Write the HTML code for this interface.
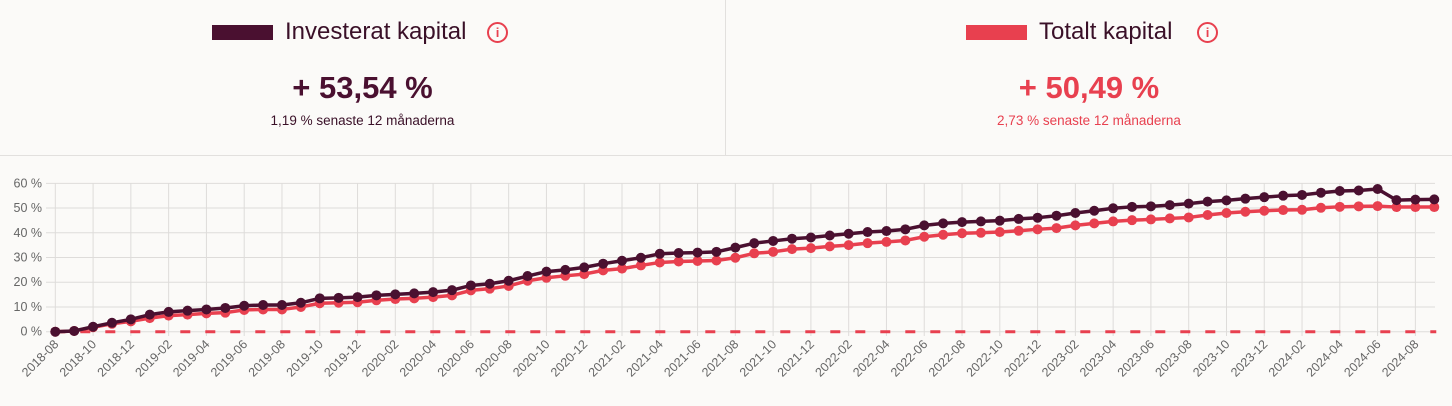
<!DOCTYPE html>
<html><head><meta charset="utf-8">
<style>
body{margin:0;width:1452px;height:406px;background:#fbfaf8;font-family:"Liberation Sans","DejaVu Sans",sans-serif;overflow:hidden;position:relative}
.panel{position:absolute;top:0;height:155px;text-align:center}
.ttl{position:absolute;top:18px;font-size:24px;color:#3a1028;white-space:nowrap}
.sw{position:absolute;top:25px;width:61px;height:15px}
.info{position:absolute;top:22px;width:17px;height:17px;border:2px solid #e8404f;border-radius:50%;color:#e8404f;font-size:13px;line-height:17px;text-align:center;font-weight:bold}
.big{position:absolute;top:70px;left:0;right:0;font-size:31px;font-weight:bold;text-align:center}
.sub{position:absolute;top:113px;left:0;right:0;font-size:13.5px;text-align:center}
</style></head><body>
<div style="position:absolute;left:0;top:0;width:1452px;height:155px;border-bottom:1px solid #e2e0de"></div>
<div style="position:absolute;left:725px;top:0;width:1px;height:155px;background:#e2e0de"></div>
<div class="panel" style="left:0;width:725px">
 <div class="sw" style="left:212px;background:#4a1030"></div>
 <div class="ttl" style="left:285px">Investerat kapital</div>
 <div class="info" style="left:487px">i</div>
 <div class="big" style="color:#4a1030">+ 53,54 %</div>
 <div class="sub" style="color:#3a1028">1,19 % senaste 12 månaderna</div>
</div>
<div class="panel" style="left:726px;width:726px">
 <div class="sw" style="left:240px;background:#e8404f"></div>
 <div class="ttl" style="left:313px">Totalt kapital</div>
 <div class="info" style="left:471px">i</div>
 <div class="big" style="color:#e8404f">+ 50,49 %</div>
 <div class="sub" style="color:#e8404f">2,73 % senaste 12 månaderna</div>
</div>
<svg id="chart" width="1452" height="406" style="position:absolute;left:0;top:0"></svg>
<script>
const startYear=2018, startMonth=8;
const invested=[0,0.3,2,3.6,5,6.9,8,8.5,9,9.6,10.5,10.8,10.8,11.7,13.5,13.7,14,14.7,15.1,15.5,16,16.8,18.7,19.4,20.6,22.5,24.3,25,26,27.5,28.7,29.9,31.5,31.8,32,32.3,34,35.8,36.7,37.6,38.1,38.9,39.6,40.3,40.7,41.4,43,43.8,44.3,44.6,44.9,45.6,46.1,46.9,48,48.9,49.9,50.5,50.7,51.2,51.8,52.6,53.1,53.8,54.4,55,55.3,56.2,56.9,57.1,57.7,53.2,53.4,53.5];
const total=[0,0.3,1.8,3.2,4.2,5.5,6.5,6.9,7.4,7.7,8.8,9,9,10,11.5,11.7,11.9,12.7,13.2,13.5,14,14.7,16.7,17.4,18.5,20.6,21.8,22.6,23.3,24.8,25.5,26.8,28,28.4,28.6,28.8,29.9,31.7,32.3,33.4,33.8,34.5,35,35.8,36.3,36.9,38.4,39.2,39.8,40,40.3,40.8,41.4,41.9,43,43.8,44.6,45.1,45.4,45.8,46.2,47.2,48,48.5,48.9,49.2,49.3,50.1,50.5,50.7,50.8,50.4,50.4,50.4];
const yTicks=[0,10,20,30,40,50,60];
const N=Math.min(invested.length,total.length);
const months=[];for(let i=0;i<N;i++){const m=startMonth-1+i;months.push((startYear+Math.floor(m/12))+'-'+String(m%12+1).padStart(2,'0'));}
const svg=document.getElementById('chart');const NS='http://www.w3.org/2000/svg';
const X0=55.3,STEP=18.89,Y0=331.7,YS=24.73/10;
const x=i=>X0+i*STEP, y=v=>Y0-v*YS;
function mk(t,a,p){const e=document.createElementNS(NS,t);for(const k in a)e.setAttribute(k,a[k]);(p||svg).appendChild(e);return e;}
const grid=mk('g',{});
yTicks.forEach(v=>{mk('line',{x1:46,x2:1435,y1:y(v),y2:y(v),stroke:'#dedcda','stroke-width':1},grid);
 const t=mk('text',{x:42,y:y(v)+4,'text-anchor':'end','font-size':12.5,fill:'#666'});t.textContent=v+' %';
 });
months.forEach((m,i)=>{if(i%2)return;mk('line',{x1:x(i),x2:x(i),y1:183,y2:336,stroke:'#dedcda','stroke-width':1},grid);
 const t=mk('text',{x:x(i)+4,y:345,'text-anchor':'end','font-size':12.5,fill:'#666',transform:`rotate(-45 ${x(i)+4} 345)`});t.textContent=m;
 });
const zl=mk('line',{x1:x(0),x2:x(N-1)+2,y1:y(0),y2:y(0),stroke:'#e8404f','stroke-width':3,'stroke-dasharray':'10 15'});

function series(vals,col,name){const g=mk('g',{});
 const p=mk('polyline',{points:vals.slice(0,N).map((v,i)=>x(i)+','+y(v)).join(' '),fill:'none',stroke:col,'stroke-width':3.5,'stroke-linejoin':'round'},g);
 
 vals.slice(0,N).forEach((v,i)=>{const c=mk('circle',{cx:x(i),cy:y(v),r:5,fill:col},g);
  });}
series(total,'#e8404f','total-series');
series(invested,'#4a1030','invested-series');
</script>
</body></html>
